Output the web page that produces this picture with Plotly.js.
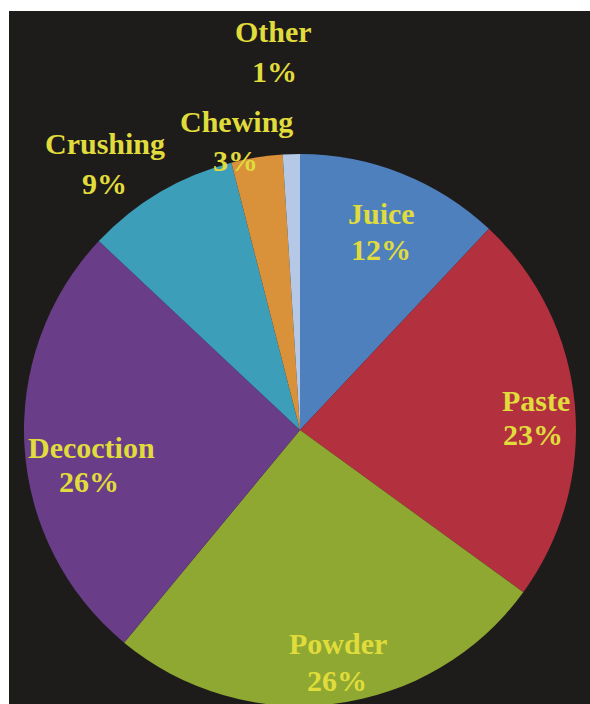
<!DOCTYPE html>
<html>
<head>
<meta charset="utf-8">
<script src="https://cdn.plot.ly/plotly-3.0.1.min.js"></script>
<style>
  html, body { margin: 0; padding: 0; width: 590px; height: 704px; overflow: hidden; background: #ffffff; }
  #bg { position: absolute; left: 9px; top: 11px; width: 581px; height: 693px; background: #1e1b1b; }
  #chart { position: absolute; left: 0; top: 0; width: 590px; height: 720px; }
</style>
</head>
<body>
<div id="bg"></div>
<div id="chart"></div>
<script>
// Data
var categories = ["Juice", "Paste", "Powder", "Decoction", "Crushing", "Chewing", "Other"];
var percentages = [12, 23, 26, 26, 9, 3, 1];
var sliceColors = ["#4f80be", "#b3313f", "#8ea831", "#6a3d88", "#3c9eb8", "#d9913a", "#b5c9e6"];

// Layout geometry (pixels)
var W = 590, H = 720;
var M = {l: 24, r: 14, t: 154, b: 14};
var plotW = W - M.l - M.r, plotH = H - M.t - M.b;

// label anchor positions in page pixels: [nameX, nameY, pctX, pctY]
var labelPos = [
  [381, 213, 381, 249],
  [536, 400, 533, 435],
  [338, 643, 337, 680],
  [91, 447, 89, 481],
  [105, 143, 104, 183],
  [236, 121, 235, 160],
  [273, 31, 274, 71]
];

function px2paper(x, y) {
  return [(x - M.l) / plotW, (H - M.b - y) / plotH];
}

var textFont = {family: "Times New Roman, Liberation Serif, DejaVu Serif, serif", size: 30, color: "#e0dc3c", weight: "bold"};

var annotations = [];
for (var i = 0; i < categories.length; i++) {
  var p1 = px2paper(labelPos[i][0], labelPos[i][1]);
  var p2 = px2paper(labelPos[i][2], labelPos[i][3]);
  annotations.push({
    text: categories[i], x: p1[0], y: p1[1], xref: "paper", yref: "paper",
    xanchor: "center", yanchor: "middle", showarrow: false, font: textFont
  });
  annotations.push({
    text: percentages[i] + "%", x: p2[0], y: p2[1], xref: "paper", yref: "paper",
    xanchor: "center", yanchor: "middle", showarrow: false, font: textFont
  });
}

var trace = {
  type: "pie",
  labels: categories,
  values: percentages,
  sort: false,
  direction: "clockwise",
  rotation: 0,
  textinfo: "none",
  hoverinfo: "none",
  marker: {colors: sliceColors, line: {width: 0}},
  domain: {x: [0, 1], y: [0, 1]},
  showlegend: false
};

var layout = {
  width: W,
  height: H,
  margin: M,
  paper_bgcolor: "rgba(0,0,0,0)",
  plot_bgcolor: "rgba(0,0,0,0)",
  showlegend: false,
  annotations: annotations
};

Plotly.newPlot("chart", [trace], layout, {staticPlot: true, displayModeBar: false});
</script>
</body>
</html>
